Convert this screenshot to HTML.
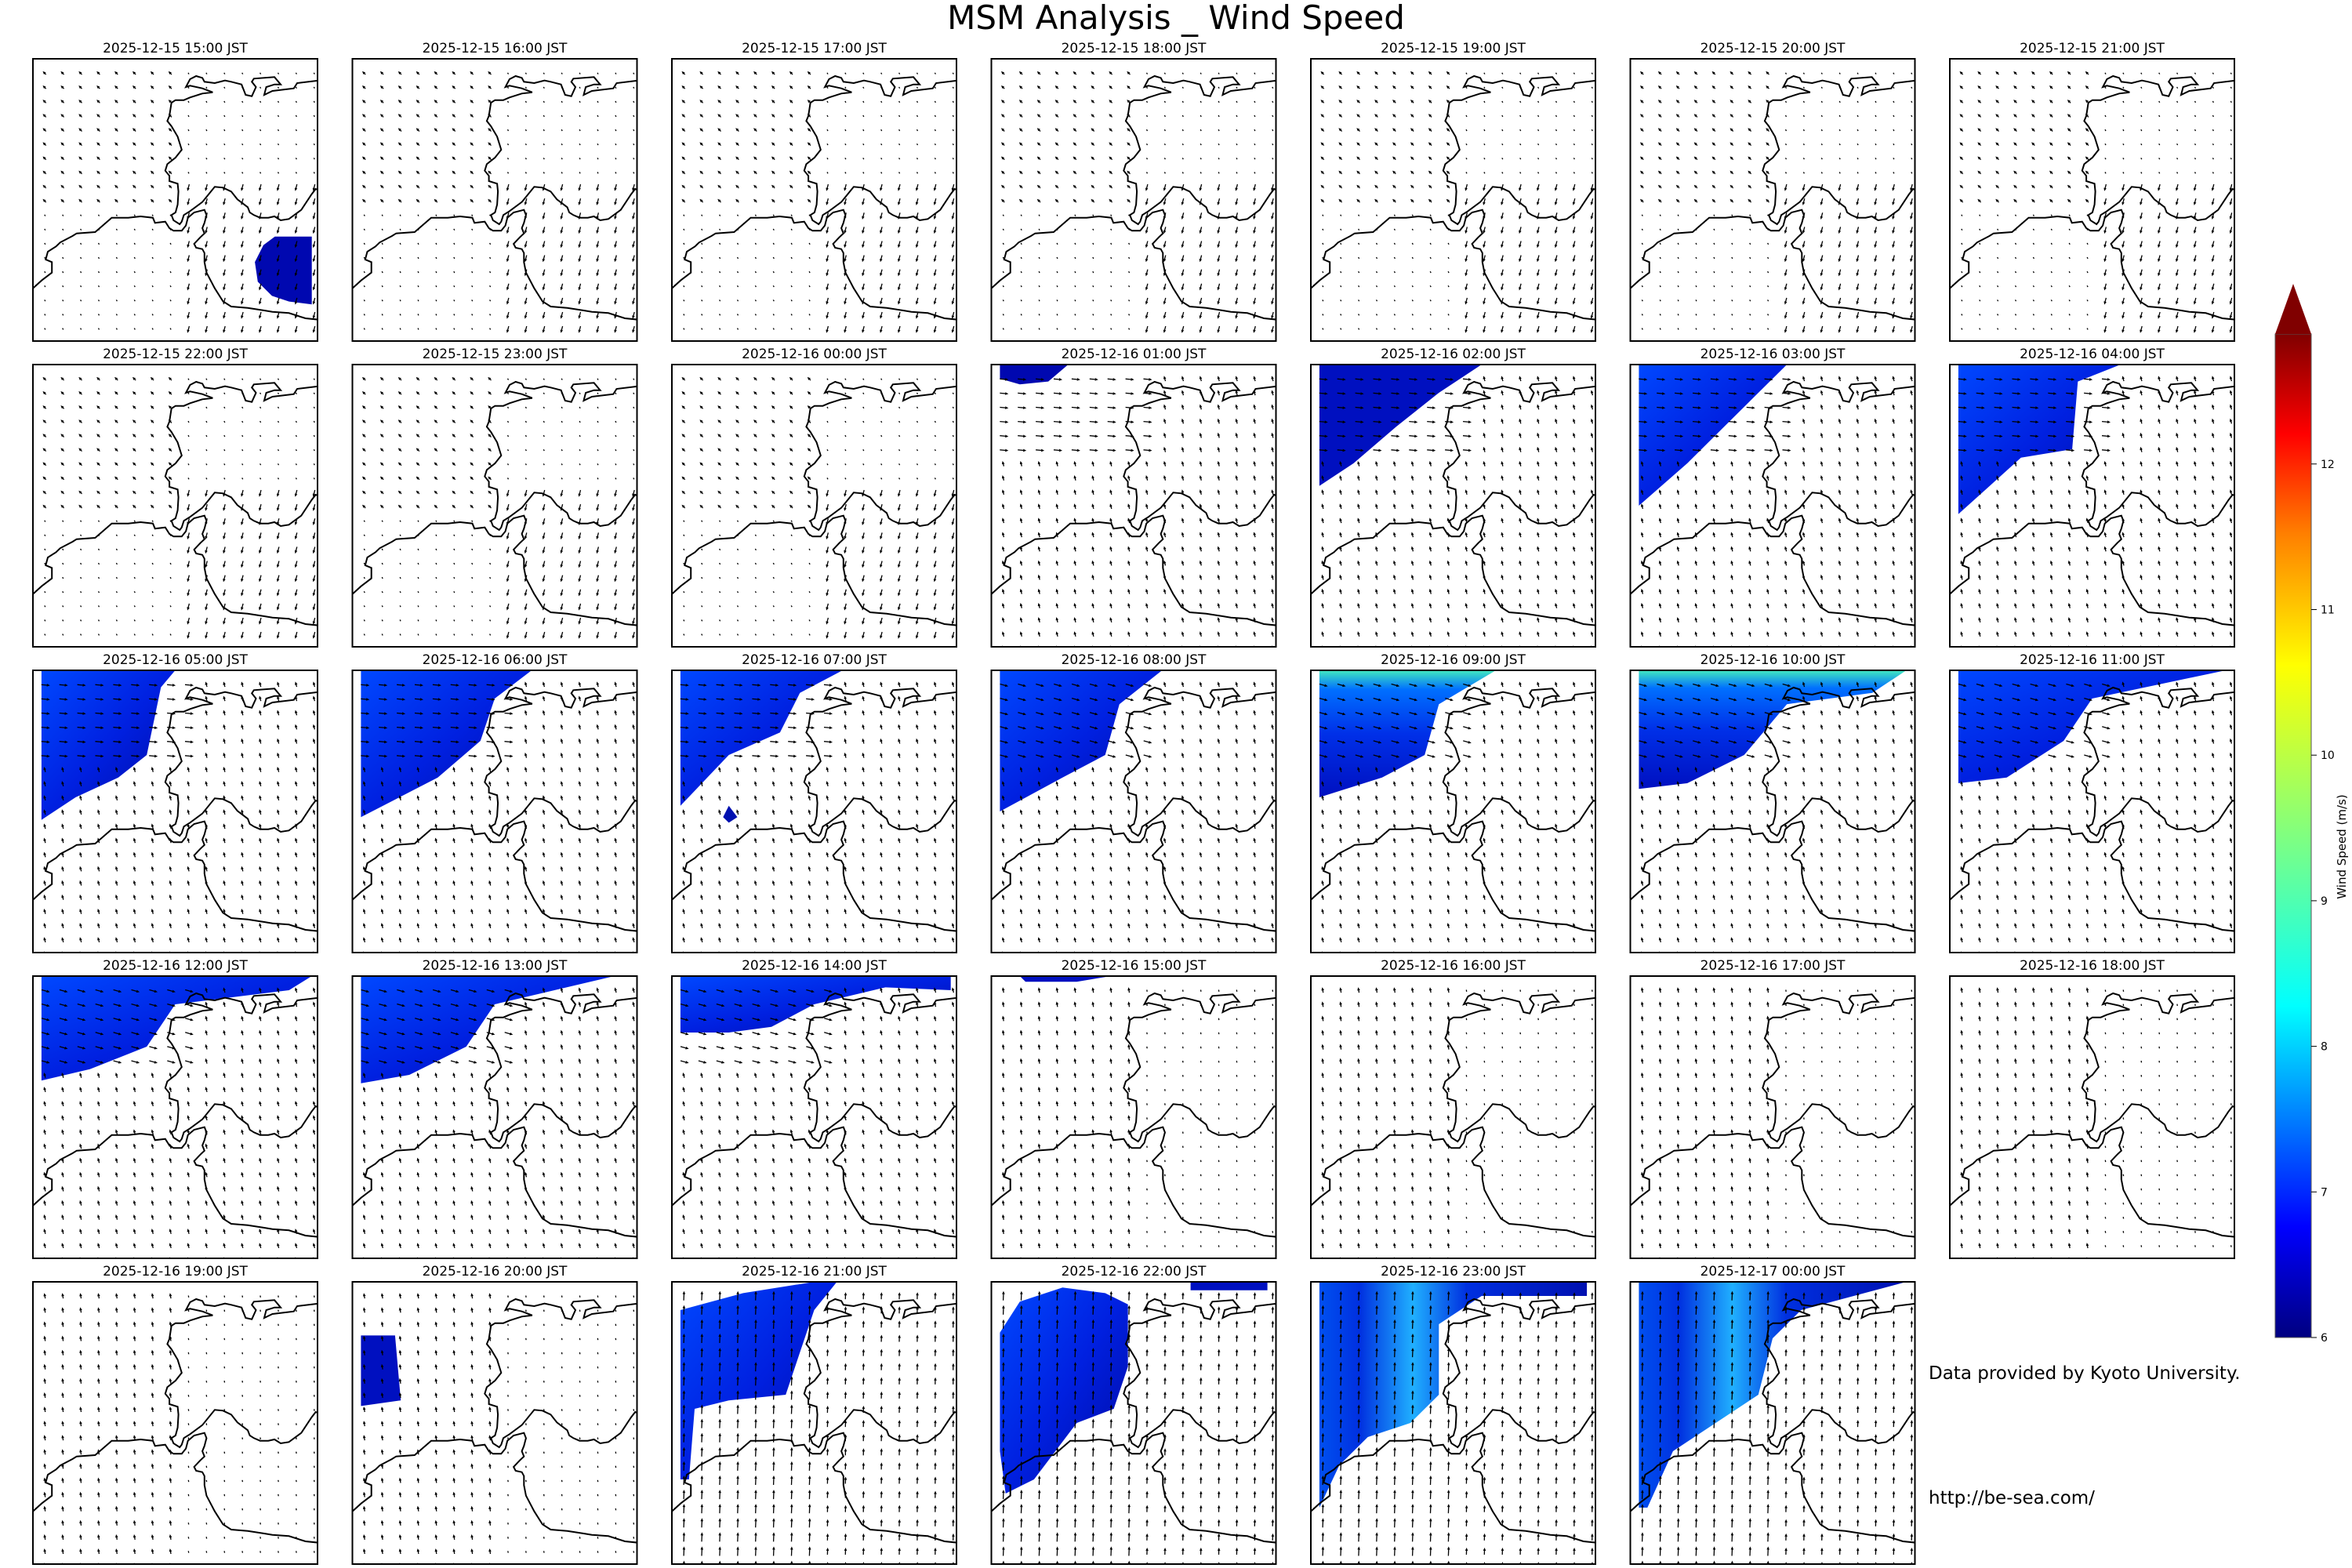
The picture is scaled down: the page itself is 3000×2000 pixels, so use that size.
<!DOCTYPE html>
<html><head><meta charset="utf-8"><style>
html,body{margin:0;padding:0;background:#fff;}
svg{display:block;}
text{font-family:"DejaVu Sans","Liberation Sans",sans-serif;}
</style></head><body>
<svg id="s" width="3000" height="2000" viewBox="0 0 3000 2000" xmlns="http://www.w3.org/2000/svg">
<defs>
<linearGradient id="jet" x1="0" y1="1" x2="0" y2="0">
<stop offset="0" stop-color="#000080"/><stop offset="0.11" stop-color="#0000ff"/>
<stop offset="0.22" stop-color="#0080ff"/><stop offset="0.33" stop-color="#00ffff"/>
<stop offset="0.5" stop-color="#80ff80"/><stop offset="0.67" stop-color="#ffff00"/>
<stop offset="0.8" stop-color="#ff8000"/><stop offset="0.9" stop-color="#ff0000"/>
<stop offset="1" stop-color="#800000"/></linearGradient>
<linearGradient id="bl" x1="0" y1="0" x2="1" y2="1">
<stop offset="0" stop-color="#0048ff"/><stop offset="0.5" stop-color="#0020e0"/><stop offset="1" stop-color="#0008a0"/></linearGradient>
<linearGradient id="bl2" x1="0" y1="0" x2="1" y2="0">
<stop offset="0" stop-color="#0050f0"/><stop offset="0.15" stop-color="#0030e0"/><stop offset="0.35" stop-color="#20b0ff"/><stop offset="0.55" stop-color="#0030e0"/><stop offset="1" stop-color="#0010b0"/></linearGradient>
<linearGradient id="bl3" x1="0" y1="0" x2="0" y2="1">
<stop offset="0" stop-color="#40e8c0"/><stop offset="0.15" stop-color="#0070ff"/><stop offset="0.5" stop-color="#0030e8"/><stop offset="1" stop-color="#0010c0"/></linearGradient>
</defs>
<text x="1500" y="37" font-size="42" text-anchor="middle">MSM Analysis _ Wind Speed</text>
<g id="panels"></g>
<rect x="2902" y="426" width="46" height="1280" fill="url(#jet)" stroke="#555" stroke-width="1"/>
<path d="M2902,426 L2925,362 L2948,426 Z" fill="#800000"/>
<g font-size="14" id="cbt"></g>
<text transform="translate(2992,1080) rotate(-90)" font-size="15" text-anchor="middle">Wind Speed (m/s)</text>
<text x="2460" y="1759" font-size="23">Data provided by Kyoto University.</text>
<text x="2460" y="1918" font-size="23">http://be-sea.com/</text>
</svg>
<script>
const cb=document.getElementById('cbt');
let h='';
for(let v=6;v<=12;v++){const y=1706-(v-6)*185.7;h+=`<line x1="2948" y1="${y}" x2="2955" y2="${y}" stroke="#000"/><text x="2960" y="${y+5}">${v}</text>`;}
cb.innerHTML=h;
const A=[[772,305],[720,315],[712,335],[660,345],[640,360],[645,330],[665,320],[680,320],[665,292],[615,298],[610,310],[620,330],[610,365],[595,360],[585,320],[560,310],[545,305],[520,315],[495,310],[490,295],[475,288],[460,300],[450,330],[460,325],[490,335],[515,350],[490,355],[460,370],[445,380],[425,380],[415,390],[410,440],[405,460],[415,480],[430,520],[440,570],[425,600],[405,625],[400,650],[410,670],[410,690],[430,700],[432,730],[430,780],[425,810],[415,820],[420,840],[435,855],[440,845],[445,820],[460,805],[490,770],[520,712],[540,715],[560,730],[575,760],[600,790],[605,810],[615,820],[630,830],[650,830],[665,825],[680,840],[700,835],[730,800],[755,740],[765,720],[772,725]];
const B=[[79,1100],[100,1070],[125,1040],[125,1000],[110,990],[115,960],[135,940],[145,925],[175,900],[185,890],[230,885],[270,830],[310,830],[340,825],[370,830],[375,850],[400,845],[410,870],[420,880],[440,880],[450,860],[455,830],[470,810],[495,800],[500,820],[495,850],[490,870],[495,890],[485,905],[470,930],[475,945],[490,950],[495,965],[495,1000],[500,1040],[520,1100],[540,1150],[560,1170],[600,1175],[640,1185],[660,1190],[700,1195],[740,1215],[772,1220]];
const cv=p=>p.map(([x,y])=>[(x/1.902-41.5).toFixed(1),(y/3-74).toFixed(1)].join(',')).join(' ');
const coast=`<polyline points="${cv(A)}" fill="none" stroke="#000" stroke-width="2"/><polyline points="${cv(B)}" fill="none" stroke="#000" stroke-width="2"/>`;
const F={
0:[[[0.98,0.63],[0.85,0.63],[0.81,0.66],[0.78,0.72],[0.79,0.79],[0.84,0.84],[0.9,0.86],[0.98,0.87]],'#0008b0'],
10:[[[0.03,0],[0.27,0],[0.2,0.06],[0.1,0.07],[0.03,0.05]],'#0008b0'],
11:[[[0.03,0],[0.6,0],[0.45,0.1],[0.3,0.22],[0.15,0.35],[0.03,0.43]],'#0010c0'],
12:[[[0.03,0],[0.55,0],[0.45,0.1],[0.35,0.2],[0.2,0.35],[0.03,0.5]],'url(#bl)'],
13:[[[0.03,0],[0.6,0],[0.45,0.06],[0.43,0.3],[0.25,0.33],[0.03,0.53]],'url(#bl)'],
14:[[[0.03,0],[0.5,0],[0.45,0.06],[0.4,0.3],[0.3,0.38],[0.15,0.45],[0.03,0.53]],'url(#bl)'],
15:[[[0.03,0],[0.63,0],[0.5,0.1],[0.45,0.25],[0.3,0.38],[0.03,0.52]],'url(#bl)'],
16:[[[0.03,0],[0.6,0],[0.45,0.08],[0.38,0.22],[0.2,0.3],[0.03,0.48]],'url(#bl)'],
17:[[[0.03,0],[0.6,0],[0.45,0.12],[0.4,0.3],[0.25,0.38],[0.03,0.5]],'url(#bl)'],
18:[[[0.03,0],[0.65,0],[0.45,0.12],[0.4,0.3],[0.25,0.38],[0.03,0.45]],'url(#bl3)'],
19:[[[0.03,0],[0.97,0],[0.85,0.08],[0.55,0.12],[0.4,0.3],[0.2,0.4],[0.03,0.42]],'url(#bl3)'],
20:[[[0.03,0],[0.97,0],[0.5,0.1],[0.4,0.25],[0.2,0.38],[0.03,0.4]],'url(#bl)'],
21:[[[0.03,0],[0.98,0],[0.9,0.05],[0.5,0.1],[0.4,0.25],[0.2,0.33],[0.03,0.37]],'url(#bl)'],
22:[[[0.03,0],[0.92,0],[0.5,0.1],[0.4,0.25],[0.2,0.35],[0.03,0.38]],'url(#bl)'],
23:[[[0.03,0],[0.98,0],[0.98,0.05],[0.75,0.04],[0.5,0.1],[0.35,0.18],[0.2,0.2],[0.03,0.2]],'url(#bl)'],
24:[[[0.1,0],[0.42,0],[0.3,0.02],[0.12,0.02]],'#0010c0'],
29:[[[0.03,0.19],[0.15,0.19],[0.17,0.42],[0.03,0.44]],'#0010c0'],
30:[[[0.03,0.1],[0.25,0.04],[0.5,0],[0.58,0],[0.5,0.1],[0.45,0.25],[0.4,0.4],[0.2,0.42],[0.08,0.45],[0.06,0.7],[0.03,0.7]],'url(#bl)'],
31:[[[0.03,0.18],[0.1,0.07],[0.25,0.02],[0.4,0.04],[0.48,0.08],[0.48,0.3],[0.43,0.45],[0.3,0.5],[0.15,0.7],[0.05,0.75],[0.03,0.6]],'url(#bl)'],
32:[[[0.03,0],[0.97,0],[0.97,0.05],[0.6,0.05],[0.45,0.15],[0.45,0.4],[0.35,0.5],[0.2,0.55],[0.1,0.65],[0.03,0.8]],'url(#bl2)'],
33:[[[0.03,0],[0.97,0],[0.6,0.1],[0.5,0.2],[0.45,0.4],[0.3,0.5],[0.15,0.6],[0.06,0.8],[0.03,0.8]],'url(#bl2)']};
const extra={31:[[0.7,0],[0.97,0],[0.97,0.03],[0.7,0.03]],16:[[0.2,0.48],[0.23,0.52],[0.2,0.54],[0.18,0.52]]};
function title(i){const d=new Date(Date.UTC(2025,11,15,15+i));const p=n=>String(n).padStart(2,'0');
return `${d.getUTCFullYear()}-${p(d.getUTCMonth()+1)}-${p(d.getUTCDate())} ${p(d.getUTCHours())}:00 JST`;}
const W=363,H=360;let out='';
for(let i=0;i<34;i++){
 const c=i%7,r=Math.floor(i/7);const x0=42+c*407.5,y0=75+r*390;
 let g=`<g transform="translate(${x0},${y0})"><text x="${W/2}" y="-8" font-size="17" text-anchor="middle">${title(i)}</text>`;
 g+=`<clipPath id="c${i}"><rect width="${W}" height="${H}"/></clipPath><g clip-path="url(#c${i})">`;
 if(F[i]) g+=`<polygon points="${F[i][0].map(([a,b])=>(a*W).toFixed(1)+','+(b*H).toFixed(1)).join(' ')}" fill="${F[i][1]}"/>`;
 if(extra[i]) g+=`<polygon points="${extra[i].map(([a,b])=>(a*W).toFixed(1)+','+(b*H).toFixed(1)).join(' ')}" fill="${i==16?'#0010b0':'#0010c0'}"/>`;
 for(let yy=0;yy<20;yy++)for(let xx=0;xx<16;xx++){
  const px=15.3+xx*22.9,py=18.7+yy*18.1;const fx=px/W,fy=py/H;
  let a,l;
  if(i<10){if(fx>0.5&&fy>0.45){a=105;l=7}else if(fy<0.55&&fx<0.5){a=225;l=4}else{a=240;l=2}}
  else if(i<24){if(fy<0.35&&fx<0.6){a=i<17?5:15;l=9}else{a=255;l=5}}
  else if(i<30){a=260;l=fx<0.5?5:2.5}
  else{a=272;l=fx<0.5?10:7}
  const rad=a*Math.PI/180,dx=Math.cos(rad)*l,dy=Math.sin(rad)*l;
  const x1=px-dx/2,y1=py-dy/2,x2=px+dx/2,y2=py+dy/2;
  const hx=Math.cos(rad),hy=Math.sin(rad);
  g+=`<line x1="${x1.toFixed(1)}" y1="${y1.toFixed(1)}" x2="${x2.toFixed(1)}" y2="${y2.toFixed(1)}" stroke="#000" stroke-width="1.3"/>`;
  if(l>3) g+=`<polygon points="${(x2+hx*2).toFixed(1)},${(y2+hy*2).toFixed(1)} ${(x2-hx*2-hy*1.8).toFixed(1)},${(y2-hy*2+hx*1.8).toFixed(1)} ${(x2-hx*2+hy*1.8).toFixed(1)},${(y2-hy*2-hx*1.8).toFixed(1)}" fill="#000"/>`;
 }
 g+=coast+`</g><rect width="${W}" height="${H}" fill="none" stroke="#000" stroke-width="2"/></g>`;
 out+=g;
}
document.getElementById('panels').innerHTML=out;
</script>
</body></html>
